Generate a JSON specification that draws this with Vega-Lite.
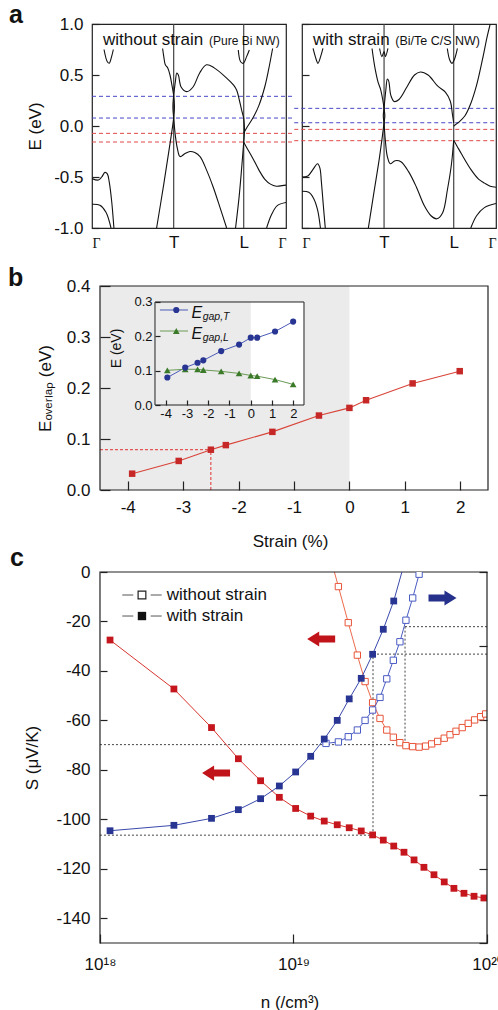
{
  "$schema": "https://vega.github.io/schema/vega-lite/v6.json",
  "padding": {"left": 8, "top": 2, "right": 0, "bottom": 0},
  "background": "white",
  "config": {
    "font": "Liberation Sans",
    "view": {"stroke": "#222", "strokeWidth": 1.2},
    "axis": {"domain": false, "grid": false, "labelFont": "Liberation Sans", "labelFontSize": 17, "labelColor": "#111", "titleFont": "Liberation Sans", "titleFontSize": 17, "titleFontWeight": "normal", "titleColor": "#111", "tickColor": "#222", "tickWidth": 1.2},
    "title": {"font": "Liberation Sans", "fontSize": 25, "fontWeight": "bold", "anchor": "start", "frame": "group", "color": "#111"},
    "text": {"font": "Liberation Sans", "color": "#111"}
  },
  "datasets": {
    "dashL": [{"pt": "T", "E": 0.291}, {"pt": "T", "E": 0.078}, {"pt": "L", "E": -0.072}, {"pt": "L", "E": -0.157}],
    "dashR": [{"pt": "T", "E": 0.173}, {"pt": "T", "E": 0.032}, {"pt": "L", "E": -0.033}, {"pt": "L", "E": -0.144}],
    "kL": [{"k": "T", "f": 0.421}, {"k": "L", "f": 0.782}],
    "kR": [{"k": "T", "f": 0.423}, {"k": "L", "f": 0.782}],
    "bandL": [
      {"c": 1, "f": 0.062, "E": 0.75}, {"c": 1, "f": 0.079, "E": 0.63}, {"c": 1, "f": 0.089, "E": 0.615}, {"c": 1, "f": 0.101, "E": 0.68}, {"c": 1, "f": 0.11, "E": 0.75},
      {"c": 2, "f": 0, "E": -0.515}, {"c": 2, "f": 0.033, "E": -0.53}, {"c": 2, "f": 0.05, "E": -0.5}, {"c": 2, "f": 0.067, "E": -0.455}, {"c": 2, "f": 0.079, "E": -0.47}, {"c": 2, "f": 0.089, "E": -0.55}, {"c": 2, "f": 0.101, "E": -0.73}, {"c": 2, "f": 0.113, "E": -1.0},
      {"c": 3, "f": 0, "E": -0.767}, {"c": 3, "f": 0.041, "E": -0.777}, {"c": 3, "f": 0.072, "E": -0.845}, {"c": 3, "f": 0.098, "E": -1.0},
      {"c": 4, "f": 0.364, "E": 0.76}, {"c": 4, "f": 0.37, "E": 0.68}, {"c": 4, "f": 0.378, "E": 0.6}, {"c": 4, "f": 0.39, "E": 0.57}, {"c": 4, "f": 0.402, "E": 0.5}, {"c": 4, "f": 0.412, "E": 0.4}, {"c": 4, "f": 0.421, "E": 0.3}, {"c": 4, "f": 0.425, "E": 0.19}, {"c": 4, "f": 0.421, "E": 0.08}, {"c": 4, "f": 0.4, "E": -0.2}, {"c": 4, "f": 0.37, "E": -0.57}, {"c": 4, "f": 0.333, "E": -1.0},
      {"c": 5, "f": 0.421, "E": 0.3}, {"c": 5, "f": 0.417, "E": 0.19}, {"c": 5, "f": 0.421, "E": 0.08},
      {"c": 6, "f": 0.421, "E": 0.3}, {"c": 6, "f": 0.43, "E": 0.44}, {"c": 6, "f": 0.437, "E": 0.52}, {"c": 6, "f": 0.445, "E": 0.5}, {"c": 6, "f": 0.46, "E": 0.38}, {"c": 6, "f": 0.488, "E": 0.337}, {"c": 6, "f": 0.52, "E": 0.38}, {"c": 6, "f": 0.555, "E": 0.52}, {"c": 6, "f": 0.59, "E": 0.6}, {"c": 6, "f": 0.63, "E": 0.57}, {"c": 6, "f": 0.694, "E": 0.47}, {"c": 6, "f": 0.73, "E": 0.4}, {"c": 6, "f": 0.746, "E": 0.35}, {"c": 6, "f": 0.76, "E": 0.25}, {"c": 6, "f": 0.772, "E": 0.15}, {"c": 6, "f": 0.782, "E": 0.08},
      {"c": 7, "f": 0.754, "E": 0.745}, {"c": 7, "f": 0.766, "E": 0.63}, {"c": 7, "f": 0.78, "E": 0.615}, {"c": 7, "f": 0.797, "E": 0.68}, {"c": 7, "f": 0.811, "E": 0.745},
      {"c": 8, "f": 0.782, "E": 0.08}, {"c": 8, "f": 0.786, "E": -0.04}, {"c": 8, "f": 0.782, "E": -0.16},
      {"c": 9, "f": 0.782, "E": -0.07}, {"c": 9, "f": 0.8, "E": -0.01}, {"c": 9, "f": 0.83, "E": 0.08}, {"c": 9, "f": 0.86, "E": 0.2}, {"c": 9, "f": 0.89, "E": 0.38}, {"c": 9, "f": 0.91, "E": 0.55}, {"c": 9, "f": 0.931, "E": 0.76},
      {"c": 10, "f": 0.782, "E": -0.16}, {"c": 10, "f": 0.8, "E": -0.22}, {"c": 10, "f": 0.83, "E": -0.32}, {"c": 10, "f": 0.86, "E": -0.43}, {"c": 10, "f": 0.89, "E": -0.52}, {"c": 10, "f": 0.92, "E": -0.57}, {"c": 10, "f": 0.95, "E": -0.59}, {"c": 10, "f": 0.98, "E": -0.585}, {"c": 10, "f": 1.0, "E": -0.58},
      {"c": 11, "f": 0.782, "E": -0.16}, {"c": 11, "f": 0.772, "E": -0.4}, {"c": 11, "f": 0.758, "E": -0.7}, {"c": 11, "f": 0.74, "E": -1.0},
      {"c": 12, "f": 0.421, "E": 0.08}, {"c": 12, "f": 0.43, "E": -0.1}, {"c": 12, "f": 0.44, "E": -0.22}, {"c": 12, "f": 0.454, "E": -0.3}, {"c": 12, "f": 0.48, "E": -0.27}, {"c": 12, "f": 0.505, "E": -0.25}, {"c": 12, "f": 0.53, "E": -0.26}, {"c": 12, "f": 0.557, "E": -0.3}, {"c": 12, "f": 0.59, "E": -0.43}, {"c": 12, "f": 0.625, "E": -0.6}, {"c": 12, "f": 0.66, "E": -0.8}, {"c": 12, "f": 0.694, "E": -1.0},
      {"c": 13, "f": 0.9, "E": -1.0}, {"c": 13, "f": 0.925, "E": -0.87}, {"c": 13, "f": 0.955, "E": -0.78}, {"c": 13, "f": 1.0, "E": -0.75}
    ],
    "bandR": [
      {"c": 1, "f": 0.057, "E": 0.76}, {"c": 1, "f": 0.074, "E": 0.647}, {"c": 1, "f": 0.082, "E": 0.614}, {"c": 1, "f": 0.096, "E": 0.68}, {"c": 1, "f": 0.108, "E": 0.76},
      {"c": 2, "f": 0, "E": -0.5}, {"c": 2, "f": 0.03, "E": -0.49}, {"c": 2, "f": 0.055, "E": -0.43}, {"c": 2, "f": 0.08, "E": -0.37}, {"c": 2, "f": 0.092, "E": -0.41}, {"c": 2, "f": 0.1, "E": -0.55}, {"c": 2, "f": 0.11, "E": -0.78}, {"c": 2, "f": 0.12, "E": -1.0},
      {"c": 3, "f": 0, "E": -0.64}, {"c": 3, "f": 0.035, "E": -0.65}, {"c": 3, "f": 0.06, "E": -0.71}, {"c": 3, "f": 0.08, "E": -0.82}, {"c": 3, "f": 0.095, "E": -1.0},
      {"c": 4, "f": 0.4, "E": 0.76}, {"c": 4, "f": 0.412, "E": 0.68}, {"c": 4, "f": 0.423, "E": 0.73}, {"c": 4, "f": 0.43, "E": 0.68}, {"c": 4, "f": 0.443, "E": 0.76},
      {"c": 5, "f": 0.361, "E": 0.76}, {"c": 5, "f": 0.37, "E": 0.64}, {"c": 5, "f": 0.378, "E": 0.55}, {"c": 5, "f": 0.392, "E": 0.43}, {"c": 5, "f": 0.405, "E": 0.36}, {"c": 5, "f": 0.416, "E": 0.26}, {"c": 5, "f": 0.423, "E": 0.17}, {"c": 5, "f": 0.427, "E": 0.1}, {"c": 5, "f": 0.423, "E": 0.03}, {"c": 5, "f": 0.4, "E": -0.3}, {"c": 5, "f": 0.37, "E": -0.66}, {"c": 5, "f": 0.342, "E": -1.0},
      {"c": 6, "f": 0.423, "E": 0.17}, {"c": 6, "f": 0.419, "E": 0.1}, {"c": 6, "f": 0.423, "E": 0.03},
      {"c": 7, "f": 0.423, "E": 0.17}, {"c": 7, "f": 0.432, "E": 0.35}, {"c": 7, "f": 0.44, "E": 0.46}, {"c": 7, "f": 0.447, "E": 0.44}, {"c": 7, "f": 0.458, "E": 0.3}, {"c": 7, "f": 0.475, "E": 0.24}, {"c": 7, "f": 0.5, "E": 0.26}, {"c": 7, "f": 0.54, "E": 0.38}, {"c": 7, "f": 0.58, "E": 0.5}, {"c": 7, "f": 0.61, "E": 0.53}, {"c": 7, "f": 0.65, "E": 0.5}, {"c": 7, "f": 0.7, "E": 0.39}, {"c": 7, "f": 0.74, "E": 0.33}, {"c": 7, "f": 0.765, "E": 0.24}, {"c": 7, "f": 0.775, "E": 0.12}, {"c": 7, "f": 0.782, "E": 0.03},
      {"c": 8, "f": 0.749, "E": 0.76}, {"c": 8, "f": 0.761, "E": 0.65}, {"c": 8, "f": 0.773, "E": 0.615}, {"c": 8, "f": 0.787, "E": 0.66}, {"c": 8, "f": 0.801, "E": 0.76},
      {"c": 9, "f": 0.782, "E": 0.0}, {"c": 9, "f": 0.81, "E": 0.04}, {"c": 9, "f": 0.84, "E": 0.1}, {"c": 9, "f": 0.87, "E": 0.22}, {"c": 9, "f": 0.9, "E": 0.4}, {"c": 9, "f": 0.93, "E": 0.65}, {"c": 9, "f": 0.955, "E": 0.88}, {"c": 9, "f": 0.97, "E": 1.0},
      {"c": 10, "f": 0.423, "E": 0.03}, {"c": 10, "f": 0.43, "E": -0.15}, {"c": 10, "f": 0.44, "E": -0.3}, {"c": 10, "f": 0.455, "E": -0.37}, {"c": 10, "f": 0.48, "E": -0.34}, {"c": 10, "f": 0.51, "E": -0.35}, {"c": 10, "f": 0.55, "E": -0.45}, {"c": 10, "f": 0.59, "E": -0.6}, {"c": 10, "f": 0.63, "E": -0.78}, {"c": 10, "f": 0.665, "E": -0.88}, {"c": 10, "f": 0.695, "E": -0.91}, {"c": 10, "f": 0.725, "E": -0.85}, {"c": 10, "f": 0.75, "E": -0.62}, {"c": 10, "f": 0.77, "E": -0.38}, {"c": 10, "f": 0.782, "E": -0.14},
      {"c": 11, "f": 0.782, "E": -0.14}, {"c": 11, "f": 0.8, "E": -0.2}, {"c": 11, "f": 0.821, "E": -0.27}, {"c": 11, "f": 0.872, "E": -0.43}, {"c": 11, "f": 0.91, "E": -0.52}, {"c": 11, "f": 0.941, "E": -0.56}, {"c": 11, "f": 0.97, "E": -0.59}, {"c": 11, "f": 1.0, "E": -0.6},
      {"c": 12, "f": 0.87, "E": -1.0}, {"c": 12, "f": 0.9, "E": -0.88}, {"c": 12, "f": 0.94, "E": -0.8}, {"c": 12, "f": 1.0, "E": -0.76}
    ],
    "bE": [
      {"strain": -3.92, "E": 0.032}, {"strain": -3.08, "E": 0.057}, {"strain": -2.5, "E": 0.079}, {"strain": -2.23, "E": 0.088}, {"strain": -1.39, "E": 0.114},
      {"strain": -0.55, "E": 0.146}, {"strain": 0, "E": 0.161}, {"strain": 0.3, "E": 0.176}, {"strain": 1.14, "E": 0.209}, {"strain": 1.99, "E": 0.233}
    ],
    "bGuide": [{"strain": -4.5, "strain2": -2.5, "E": 0.079, "E2": 0.079}, {"strain": -2.5, "strain2": -2.5, "E": 0, "E2": 0.079}],
    "bGap": [
      {"strain": -3.92, "T": 0.08, "L": 0.101}, {"strain": -3.08, "T": 0.109, "L": 0.104}, {"strain": -2.5, "T": 0.123, "L": 0.104}, {"strain": -2.23, "T": 0.13, "L": 0.102}, {"strain": -1.39, "T": 0.157, "L": 0.098},
      {"strain": -0.55, "T": 0.176, "L": 0.092}, {"strain": 0, "T": 0.196, "L": 0.086}, {"strain": 0.3, "T": 0.196, "L": 0.084}, {"strain": 1.14, "T": 0.214, "L": 0.074}, {"strain": 1.99, "T": 0.243, "L": 0.06}
    ],
    "cS": [
      {"strain": "with strain", "n": 1.127e18, "S": -27.5}, {"strain": "with strain", "n": 2.41e18, "S": -47.3}, {"strain": "with strain", "n": 3.77e18, "S": -62.9}, {"strain": "with strain", "n": 5.19e18, "S": -75.5}, {"strain": "with strain", "n": 6.76e18, "S": -84.4}, {"strain": "with strain", "n": 8.45e18, "S": -91.1}, {"strain": "with strain", "n": 1.026e19, "S": -95.6}, {"strain": "with strain", "n": 1.227e19, "S": -98.7}, {"strain": "with strain", "n": 1.442e19, "S": -100.7}, {"strain": "with strain", "n": 1.683e19, "S": -102.2}, {"strain": "with strain", "n": 1.941e19, "S": -103.4}, {"strain": "with strain", "n": 2.239e19, "S": -104.7}, {"strain": "with strain", "n": 2.564e19, "S": -106.3}, {"strain": "with strain", "n": 2.911e19, "S": -108.4}, {"strain": "with strain", "n": 3.296e19, "S": -110.8}, {"strain": "with strain", "n": 3.724e19, "S": -113.3}, {"strain": "with strain", "n": 4.198e19, "S": -116.4}, {"strain": "with strain", "n": 4.721e19, "S": -119.4}, {"strain": "with strain", "n": 5.321e19, "S": -122.4}, {"strain": "with strain", "n": 6.012e19, "S": -125.3}, {"strain": "with strain", "n": 6.745e19, "S": -127.9}, {"strain": "with strain", "n": 7.603e19, "S": -129.9}, {"strain": "with strain", "n": 8.57e19, "S": -131.1}, {"strain": "with strain", "n": 9.638e19, "S": -131.8},
      {"strain": "without strain", "n": 1.472e19, "S": 12.4}, {"strain": "without strain", "n": 1.706e19, "S": -5.9}, {"strain": "without strain", "n": 1.919e19, "S": -20.5}, {"strain": "without strain", "n": 2.138e19, "S": -33.6}, {"strain": "without strain", "n": 2.344e19, "S": -44.3}, {"strain": "without strain", "n": 2.564e19, "S": -52.8}, {"strain": "without strain", "n": 2.799e19, "S": -59.2}, {"strain": "without strain", "n": 3.034e19, "S": -63.9}, {"strain": "without strain", "n": 3.281e19, "S": -66.8}, {"strain": "without strain", "n": 3.548e19, "S": -69.0}, {"strain": "without strain", "n": 3.811e19, "S": -70.2}, {"strain": "without strain", "n": 4.13e19, "S": -70.6}, {"strain": "without strain", "n": 4.457e19, "S": -70.8}, {"strain": "without strain", "n": 4.819e19, "S": -70.4}, {"strain": "without strain", "n": 5.176e19, "S": -69.5}, {"strain": "without strain", "n": 5.559e19, "S": -68.5}, {"strain": "without strain", "n": 6.012e19, "S": -67.2}, {"strain": "without strain", "n": 6.442e19, "S": -65.8}, {"strain": "without strain", "n": 6.918e19, "S": -64.4}, {"strain": "without strain", "n": 7.447e19, "S": -62.9}, {"strain": "without strain", "n": 7.998e19, "S": -61.2}, {"strain": "without strain", "n": 8.63e19, "S": -59.8}, {"strain": "without strain", "n": 9.268e19, "S": -58.5}, {"strain": "without strain", "n": 9.84e19, "S": -57.4}
    ],
    "cR": [
      {"strain": "with strain", "n": 1.127e18, "R": 1.513}, {"strain": "with strain", "n": 2.41e18, "R": 1.586}, {"strain": "with strain", "n": 3.77e18, "R": 1.68}, {"strain": "with strain", "n": 5.19e18, "R": 1.797}, {"strain": "with strain", "n": 6.76e18, "R": 1.945}, {"strain": "with strain", "n": 8.45e18, "R": 2.116}, {"strain": "with strain", "n": 1.026e19, "R": 2.305}, {"strain": "with strain", "n": 1.227e19, "R": 2.516}, {"strain": "with strain", "n": 1.442e19, "R": 2.749}, {"strain": "with strain", "n": 1.683e19, "R": 3.0}, {"strain": "with strain", "n": 1.941e19, "R": 3.29}, {"strain": "with strain", "n": 2.239e19, "R": 3.567}, {"strain": "with strain", "n": 2.564e19, "R": 3.891}, {"strain": "with strain", "n": 2.911e19, "R": 4.228}, {"strain": "with strain", "n": 3.296e19, "R": 4.609}, {"strain": "with strain", "n": 3.724e19, "R": 5.1},
      {"strain": "without strain", "n": 1.472e19, "R": 2.69}, {"strain": "without strain", "n": 1.706e19, "R": 2.71}, {"strain": "without strain", "n": 1.919e19, "R": 2.78}, {"strain": "without strain", "n": 2.138e19, "R": 2.87}, {"strain": "without strain", "n": 2.344e19, "R": 3.0}, {"strain": "without strain", "n": 2.564e19, "R": 3.14}, {"strain": "without strain", "n": 2.799e19, "R": 3.31}, {"strain": "without strain", "n": 3.034e19, "R": 3.56}, {"strain": "without strain", "n": 3.281e19, "R": 3.81}, {"strain": "without strain", "n": 3.548e19, "R": 4.06}, {"strain": "without strain", "n": 3.811e19, "R": 4.35}, {"strain": "without strain", "n": 4.13e19, "R": 4.65}, {"strain": "without strain", "n": 4.457e19, "R": 4.97}, {"strain": "without strain", "n": 4.819e19, "R": 5.3}
    ],
    "cGuide": [
      {"n": 1e18, "n2": 2.576e19, "S": -106.4, "S2": -106.4}, {"n": 2.576e19, "n2": 2.576e19, "S": -106.4, "S2": -33.2}, {"n": 2.576e19, "n2": 1e20, "S": -33.2, "S2": -33.2},
      {"n": 1e18, "n2": 3.77e19, "S": -69.8, "S2": -69.8}, {"n": 3.77e19, "n2": 3.77e19, "S": -69.8, "S2": -22.1}, {"n": 3.77e19, "n2": 1e20, "S": -22.1, "S2": -22.1}
    ],
    "cArrow": [{"dir": "left", "n": 1.39e19, "S": -27.1}, {"dir": "left", "n": 3.98e18, "S": -81.3}, {"dir": "right", "n": 5.89e19, "S": -10.5}]
  },
  "vconcat": [
    {
      "vconcat": [
        {
          "hconcat": [
            {
              "width": 194, "height": 204,
              "title": {"text": "a", "dx": -83, "offset": -13},
              "layer": [
                {"data": {"name": "dashL"}, "mark": {"type": "rule", "strokeDash": [4, 3], "strokeWidth": 1},
                 "encoding": {"x": {"datum": 0}, "x2": {"datum": 1.045}, "y": {"field": "E", "type": "quantitative"},
                   "color": {"field": "pt", "type": "nominal", "scale": {"domain": ["T", "L"], "range": ["#4848c8", "#e04848"]}, "legend": null}}},
                {"data": {"name": "kL"}, "mark": {"type": "rule", "color": "#444", "strokeWidth": 1.2},
                 "encoding": {"x": {"field": "f", "type": "quantitative"}}},
                {"data": {"name": "bandL"}, "mark": {"type": "line", "color": "#111", "strokeWidth": 1.1, "interpolate": "catmull-rom", "clip": true},
                 "encoding": {
                   "x": {"field": "f", "type": "quantitative", "scale": {"domain": [0, 1], "nice": false, "zero": false},
                     "axis": {"values": [0, 0.421, 0.782, 1], "ticks": false, "title": null, "labelPadding": 19, "labelBaseline": "alphabetic", "labelFlush": true,
                       "labelExpr": "datum.value == 0 || datum.value == 1 ? 'Γ' : datum.value < 0.6 ? 'T' : 'L'",
                       "labelFont": {"condition": {"test": "datum.value == 0 || datum.value == 1", "value": "Liberation Serif"}, "value": "Liberation Sans"},
                       "labelFontSize": {"condition": {"test": "datum.value == 0 || datum.value == 1", "value": 14}, "value": 17}}},
                   "y": {"field": "E", "type": "quantitative", "scale": {"domain": [-1, 1], "nice": false, "zero": false},
                     "axis": {"values": [-1, -0.5, 0, 0.5, 1], "labelExpr": "replace(format(datum.value, '.1f'), '−', '-')", "tickSize": -7, "labelPadding": 16, "title": "E (eV)", "titlePadding": 9}},
                   "detail": {"field": "c", "type": "nominal"},
                   "order": {"value": null}}},
                {"data": {"values": [{}]}, "mark": {"type": "text", "text": "without strain", "fontSize": 17, "align": "left", "baseline": "alphabetic"},
                 "encoding": {"x": {"datum": 0.057}, "y": {"datum": 0.794}}},
                {"data": {"values": [{}]}, "mark": {"type": "text", "text": "(Pure Bi NW)", "fontSize": 12, "align": "left", "baseline": "alphabetic"},
                 "encoding": {"x": {"datum": 0.603}, "y": {"datum": 0.794}}}
              ]
            },
            {
              "width": 194, "height": 204,
              "title": {"text": " ", "offset": -13},
              "layer": [
                {"data": {"name": "dashR"}, "mark": {"type": "rule", "strokeDash": [4, 3], "strokeWidth": 1},
                 "encoding": {"x": {"datum": -0.04}, "x2": {"datum": 1}, "y": {"field": "E", "type": "quantitative"},
                   "color": {"field": "pt", "type": "nominal", "scale": {"domain": ["T", "L"], "range": ["#4848c8", "#e04848"]}, "legend": null}}},
                {"data": {"name": "kR"}, "mark": {"type": "rule", "color": "#444", "strokeWidth": 1.2},
                 "encoding": {"x": {"field": "f", "type": "quantitative"}}},
                {"data": {"name": "bandR"}, "mark": {"type": "line", "color": "#111", "strokeWidth": 1.1, "interpolate": "catmull-rom", "clip": true},
                 "encoding": {
                   "x": {"field": "f", "type": "quantitative", "scale": {"domain": [0, 1], "nice": false, "zero": false},
                     "axis": {"values": [0, 0.423, 0.782, 1], "ticks": false, "title": null, "labelPadding": 19, "labelBaseline": "alphabetic", "labelFlush": true,
                       "labelExpr": "datum.value == 0 || datum.value == 1 ? 'Γ' : datum.value < 0.6 ? 'T' : 'L'",
                       "labelFont": {"condition": {"test": "datum.value == 0 || datum.value == 1", "value": "Liberation Serif"}, "value": "Liberation Sans"},
                       "labelFontSize": {"condition": {"test": "datum.value == 0 || datum.value == 1", "value": 14}, "value": 17}}},
                   "y": {"field": "E", "type": "quantitative", "scale": {"domain": [-1, 1], "nice": false, "zero": false},
                     "axis": {"values": [-1, -0.5, 0, 0.5, 1], "labels": false, "tickSize": -7, "title": null}},
                   "detail": {"field": "c", "type": "nominal"},
                   "order": {"value": null}}},
                {"data": {"values": [{}]}, "mark": {"type": "text", "text": "with strain", "fontSize": 17, "align": "left", "baseline": "alphabetic"},
                 "encoding": {"x": {"datum": 0.057}, "y": {"datum": 0.794}}},
                {"data": {"values": [{}]}, "mark": {"type": "text", "text": "(Bi/Te C/S NW)", "fontSize": 12.5, "align": "left", "baseline": "alphabetic"},
                 "encoding": {"x": {"datum": 0.481}, "y": {"datum": 0.794}}}
              ]
            }
          ],
          "spacing": -3
        },
        {
          "width": 396, "height": 204,
          "view": {"stroke": null},
          "title": {"text": "b", "dx": -84, "offset": -14},
          "layer": [
            {"layer": [
              {"data": {"values": [{}]}, "mark": {"type": "rect", "color": "#ebebeb"},
               "encoding": {"x": {"datum": -4.5}, "x2": {"datum": 0}, "y": {"datum": 0}, "y2": {"datum": 0.4}}},
              {"data": {"name": "bGuide"}, "mark": {"type": "rule", "color": "#e03030", "strokeDash": [3, 2], "strokeWidth": 1},
               "encoding": {"x": {"field": "strain", "type": "quantitative"}, "x2": {"field": "strain2"}, "y": {"field": "E", "type": "quantitative"}, "y2": {"field": "E2"}}},
              {"data": {"name": "bE"}, "mark": {"type": "line", "color": "#d84338", "strokeWidth": 1.1},
               "encoding": {
                 "x": {"field": "strain", "type": "quantitative", "scale": {"domain": [-4.6443, 2.5], "nice": false, "zero": false},
                   "axis": {"values": [-4, -3, -2, -1, 0, 1, 2], "labelExpr": "'' + datum.value", "tickSize": -9, "labelPadding": 31, "labelBaseline": "alphabetic", "labelFlush": false, "title": "Strain (%)", "titlePadding": 18, "zindex": 1}},
                 "y": {"field": "E", "type": "quantitative", "scale": {"domain": [0, 0.4], "nice": false, "zero": false},
                   "axis": {"offset": -8, "values": [0, 0.1, 0.2, 0.3, 0.4], "format": ".1f", "tickSize": -10, "labelPadding": 20, "title": "Eₒᵥₑᵣₗₐₚ (eV)", "titlePadding": 12, "zindex": 1}}}},
              {"data": {"name": "bE"}, "mark": {"type": "square", "color": "#c62828", "size": 42, "opacity": 1},
               "encoding": {"x": {"field": "strain", "type": "quantitative"}, "y": {"field": "E", "type": "quantitative"}}},
              {"data": {"values": [{}]}, "mark": {"type": "rect", "filled": false, "color": "#222", "strokeWidth": 1.2},
               "encoding": {"x": {"datum": -4.5}, "x2": {"datum": 2.5}, "y": {"datum": 0}, "y2": {"datum": 0.4}}}
            ]},
            {"layer": [
              {"data": {"values": [{}]}, "mark": {"type": "rect", "color": "white"},
               "encoding": {"x": {"datum": -4.5}, "x2": {"datum": 2.5}, "y": {"datum": 0}, "y2": {"datum": 0.3}}},
              {"data": {"values": [{}]}, "mark": {"type": "rect", "color": "#ebebeb"},
               "encoding": {"x": {"datum": -4.5}, "x2": {"datum": 0}, "y": {"datum": 0}, "y2": {"datum": 0.3}}},
              {"data": {"name": "bGap"}, "mark": {"type": "line", "color": "#4a5ab8", "strokeWidth": 1},
               "encoding": {
                 "x": {"field": "strain", "type": "quantitative", "scale": {"domain": [-7.4597, 11.1443], "nice": false, "zero": false},
                   "axis": {"orient": "bottom", "offset": -85, "values": [-4, -3, -2, -1, 0, 1, 2], "labelExpr": "'' + datum.value", "tickSize": -5, "labelPadding": 17, "labelBaseline": "alphabetic", "labelFlush": false, "labelFontSize": 13, "title": null, "zindex": 1}},
                 "y": {"field": "T", "type": "quantitative", "scale": {"domain": [-0.24757, 0.3466], "nice": false, "zero": false},
                   "axis": {"orient": "left", "offset": -63, "values": [0, 0.1, 0.2, 0.3], "format": ".1f", "tickSize": -5, "labelPadding": 8, "labelFontSize": 13, "title": "E (eV)", "titleFontSize": 14, "titlePadding": 10, "titleY": 62, "zindex": 1}}}},
              {"data": {"name": "bGap"}, "mark": {"type": "line", "color": "#6a9a55", "strokeWidth": 1},
               "encoding": {"x": {"field": "strain", "type": "quantitative"}, "y": {"field": "L", "type": "quantitative"}}},
              {"data": {"name": "bGap"}, "mark": {"type": "point", "shape": "triangle-up", "filled": true, "color": "#3a7a28", "size": 45, "opacity": 1},
               "encoding": {"x": {"field": "strain", "type": "quantitative"}, "y": {"field": "L", "type": "quantitative"}}},
              {"data": {"name": "bGap"}, "mark": {"type": "circle", "color": "#283593", "size": 38, "opacity": 1},
               "encoding": {"x": {"field": "strain", "type": "quantitative"}, "y": {"field": "T", "type": "quantitative"}}},
              {"data": {"values": [{}]}, "mark": {"type": "rule", "color": "#4a5ab8", "strokeWidth": 1},
               "encoding": {"x": {"datum": -4.27}, "x2": {"datum": -2.95}, "y": {"datum": 0.2767}}},
              {"data": {"values": [{}]}, "mark": {"type": "circle", "color": "#283593", "size": 38, "opacity": 1},
               "encoding": {"x": {"datum": -3.5}, "y": {"datum": 0.2767}}},
              {"data": {"values": [{}]}, "mark": {"type": "text", "text": "E", "fontSize": 16, "fontStyle": "italic", "align": "left", "baseline": "alphabetic"},
               "encoding": {"x": {"datum": -2.78}, "y": {"datum": 0.254}}},
              {"data": {"values": [{}]}, "mark": {"type": "text", "text": "gap,T", "fontSize": 10.5, "fontStyle": "italic", "align": "left", "baseline": "alphabetic"},
               "encoding": {"x": {"datum": -2.26}, "y": {"datum": 0.2476}}},
              {"data": {"values": [{}]}, "mark": {"type": "rule", "color": "#6a9a55", "strokeWidth": 1},
               "encoding": {"x": {"datum": -4.27}, "x2": {"datum": -2.95}, "y": {"datum": 0.2155}}},
              {"data": {"values": [{}]}, "mark": {"type": "point", "shape": "triangle-up", "filled": true, "color": "#3a7a28", "size": 45, "opacity": 1},
               "encoding": {"x": {"datum": -3.5}, "y": {"datum": 0.2155}}},
              {"data": {"values": [{}]}, "mark": {"type": "text", "text": "E", "fontSize": 16, "fontStyle": "italic", "align": "left", "baseline": "alphabetic"},
               "encoding": {"x": {"datum": -2.78}, "y": {"datum": 0.193}}},
              {"data": {"values": [{}]}, "mark": {"type": "text", "text": "gap,L", "fontSize": 10.5, "fontStyle": "italic", "align": "left", "baseline": "alphabetic"},
               "encoding": {"x": {"datum": -2.26}, "y": {"datum": 0.1864}}},
              {"data": {"values": [{}]}, "mark": {"type": "rect", "filled": false, "color": "#222", "strokeWidth": 1},
               "encoding": {"x": {"datum": -4.5}, "x2": {"datum": 2.5}, "y": {"datum": 0}, "y2": {"datum": 0.3}}}
            ]}
          ],
          "resolve": {"scale": {"x": "independent", "y": "independent"}, "axis": {"x": "independent", "y": "independent"}}
        }
      ],
      "spacing": 15
    },
    {
      "width": 395, "height": 371,
      "view": {"stroke": null},
      "title": {"text": "c", "dx": -82, "offset": -8},
      "layer": [
        {"layer": [
          {"data": {"name": "cGuide"}, "mark": {"type": "rule", "color": "#444", "strokeDash": [2, 2], "strokeWidth": 1},
           "encoding": {"x": {"field": "n", "type": "quantitative", "scale": {"type": "log"}}, "x2": {"field": "n2"}, "y": {"field": "S", "type": "quantitative"}, "y2": {"field": "S2"}}},
          {"data": {"name": "cS"}, "transform": [{"filter": "datum.strain == 'with strain'"}], "mark": {"type": "line", "color": "#d7352f", "strokeWidth": 1, "clip": true},
           "encoding": {
             "x": {"field": "n", "type": "quantitative", "scale": {"type": "log", "domain": [9.0937e17, 1e20], "nice": false},
               "axis": {"values": [1e18, 1e19, 1e20], "labelExpr": "datum.value < 3e18 ? '10¹⁸' : datum.value < 3e19 ? '10¹⁹' : '10²⁰'", "tickSize": -9, "labelPadding": 35, "labelBaseline": "alphabetic", "labelFlush": false, "title": "n (/cm³)", "titlePadding": 22}},
             "y": {"field": "S", "type": "quantitative", "scale": {"domain": [-150, 0], "nice": false, "zero": false},
               "axis": {"offset": -8, "values": [-140, -120, -100, -80, -60, -40, -20, 0], "labelExpr": "'' + datum.value", "tickSize": -7, "labelPadding": 17, "title": "S (μV/K)", "titlePadding": 14}}}},
          {"data": {"name": "cS"}, "transform": [{"filter": "datum.strain == 'without strain'"}], "mark": {"type": "line", "color": "#ec6a4c", "strokeWidth": 1, "clip": true},
           "encoding": {"x": {"field": "n", "type": "quantitative", "scale": {"type": "log"}}, "y": {"field": "S", "type": "quantitative"}}},
          {"data": {"name": "cS"}, "transform": [{"filter": "datum.strain == 'without strain'"}], "mark": {"type": "point", "shape": "square", "fill": "white", "stroke": "#e8553a", "strokeWidth": 1, "size": 40, "opacity": 1, "clip": true},
           "encoding": {"x": {"field": "n", "type": "quantitative", "scale": {"type": "log"}}, "y": {"field": "S", "type": "quantitative"}}},
          {"data": {"name": "cS"}, "transform": [{"filter": "datum.strain == 'with strain'"}], "mark": {"type": "point", "shape": "square", "filled": true, "color": "#c4161c", "size": 46, "opacity": 1, "clip": true},
           "encoding": {"x": {"field": "n", "type": "quantitative", "scale": {"type": "log"}}, "y": {"field": "S", "type": "quantitative"}}},
          {"data": {"name": "cArrow"}, "transform": [{"filter": "datum.dir == 'left'"}], "mark": {"type": "point", "shape": "M-1,0L-0.14,-0.54L-0.14,-0.25L1,-0.25L1,0.25L-0.14,0.25L-0.14,0.54Z", "filled": true, "color": "#c0141a", "size": 784, "opacity": 1, "strokeWidth": 0},
           "encoding": {"x": {"field": "n", "type": "quantitative", "scale": {"type": "log"}}, "y": {"field": "S", "type": "quantitative"}}},
          {"data": {"name": "cArrow"}, "transform": [{"filter": "datum.dir == 'right'"}], "mark": {"type": "point", "shape": "M1,0L0.14,-0.54L0.14,-0.25L-1,-0.25L-1,0.25L0.14,0.25L0.14,0.54Z", "filled": true, "color": "#26318c", "size": 784, "opacity": 1, "strokeWidth": 0},
           "encoding": {"x": {"field": "n", "type": "quantitative", "scale": {"type": "log"}}, "y": {"field": "S", "type": "quantitative"}}},
          {"data": {"values": [{}]}, "mark": {"type": "rule", "color": "#555", "strokeWidth": 1},
           "encoding": {"x": {"datum": 1.304e18}, "x2": {"datum": 1.486e18}, "y": {"datum": -9.3}}},
          {"data": {"values": [{}]}, "mark": {"type": "rule", "color": "#555", "strokeWidth": 1},
           "encoding": {"x": {"datum": 1.828e18}, "x2": {"datum": 2.084e18}, "y": {"datum": -9.3}}},
          {"data": {"values": [{}]}, "mark": {"type": "point", "shape": "square", "fill": "white", "stroke": "#222", "strokeWidth": 1.2, "size": 60, "opacity": 1},
           "encoding": {"x": {"datum": 1.648e18}, "y": {"datum": -9.3}}},
          {"data": {"values": [{}]}, "mark": {"type": "text", "text": "without strain", "fontSize": 17, "align": "left", "baseline": "middle"},
           "encoding": {"x": {"datum": 2.212e18}, "y": {"datum": -9.3}}},
          {"data": {"values": [{}]}, "mark": {"type": "rule", "color": "#555", "strokeWidth": 1},
           "encoding": {"x": {"datum": 1.304e18}, "x2": {"datum": 1.486e18}, "y": {"datum": -17.8}}},
          {"data": {"values": [{}]}, "mark": {"type": "rule", "color": "#555", "strokeWidth": 1},
           "encoding": {"x": {"datum": 1.828e18}, "x2": {"datum": 2.084e18}, "y": {"datum": -17.8}}},
          {"data": {"values": [{}]}, "mark": {"type": "point", "shape": "square", "filled": true, "color": "#111", "size": 70, "opacity": 1},
           "encoding": {"x": {"datum": 1.648e18}, "y": {"datum": -17.8}}},
          {"data": {"values": [{}]}, "mark": {"type": "text", "text": "with strain", "fontSize": 17, "align": "left", "baseline": "middle"},
           "encoding": {"x": {"datum": 2.212e18}, "y": {"datum": -17.8}}},
          {"data": {"values": [{}]}, "mark": {"type": "rect", "filled": false, "color": "#222", "strokeWidth": 1.2},
           "encoding": {"x": {"datum": 1e18}, "x2": {"datum": 1e20}, "y": {"datum": -150}, "y2": {"datum": 0}}}
        ]},
        {"layer": [
          {"data": {"name": "cR"}, "transform": [{"filter": "datum.strain == 'with strain'"}], "mark": {"type": "line", "color": "#3949ab", "strokeWidth": 1, "clip": true},
           "encoding": {"x": {"field": "n", "type": "quantitative", "scale": {"type": "log"}},
             "y": {"field": "R", "type": "quantitative", "scale": {"domain": [0, 5], "nice": false, "zero": false},
               "axis": {"orient": "right", "values": [0, 1, 2, 3, 4, 5], "tickSize": -8, "labelPadding": 19, "title": null}}}},
          {"data": {"name": "cR"}, "transform": [{"filter": "datum.strain == 'without strain'"}], "mark": {"type": "line", "color": "#4a5bc4", "strokeWidth": 1, "clip": true},
           "encoding": {"x": {"field": "n", "type": "quantitative", "scale": {"type": "log"}}, "y": {"field": "R", "type": "quantitative"}}},
          {"data": {"name": "cR"}, "transform": [{"filter": "datum.strain == 'without strain'"}], "mark": {"type": "point", "shape": "square", "fill": "white", "stroke": "#4a5bc4", "strokeWidth": 1, "size": 40, "opacity": 1, "clip": true},
           "encoding": {"x": {"field": "n", "type": "quantitative", "scale": {"type": "log"}}, "y": {"field": "R", "type": "quantitative"}}},
          {"data": {"name": "cR"}, "transform": [{"filter": "datum.strain == 'with strain'"}], "mark": {"type": "point", "shape": "square", "filled": true, "color": "#283593", "size": 46, "opacity": 1, "clip": true},
           "encoding": {"x": {"field": "n", "type": "quantitative", "scale": {"type": "log"}}, "y": {"field": "R", "type": "quantitative"}}}
        ]}
      ],
      "resolve": {"scale": {"y": "independent"}, "axis": {"y": "independent"}}
    }
  ],
  "spacing": -3
}
